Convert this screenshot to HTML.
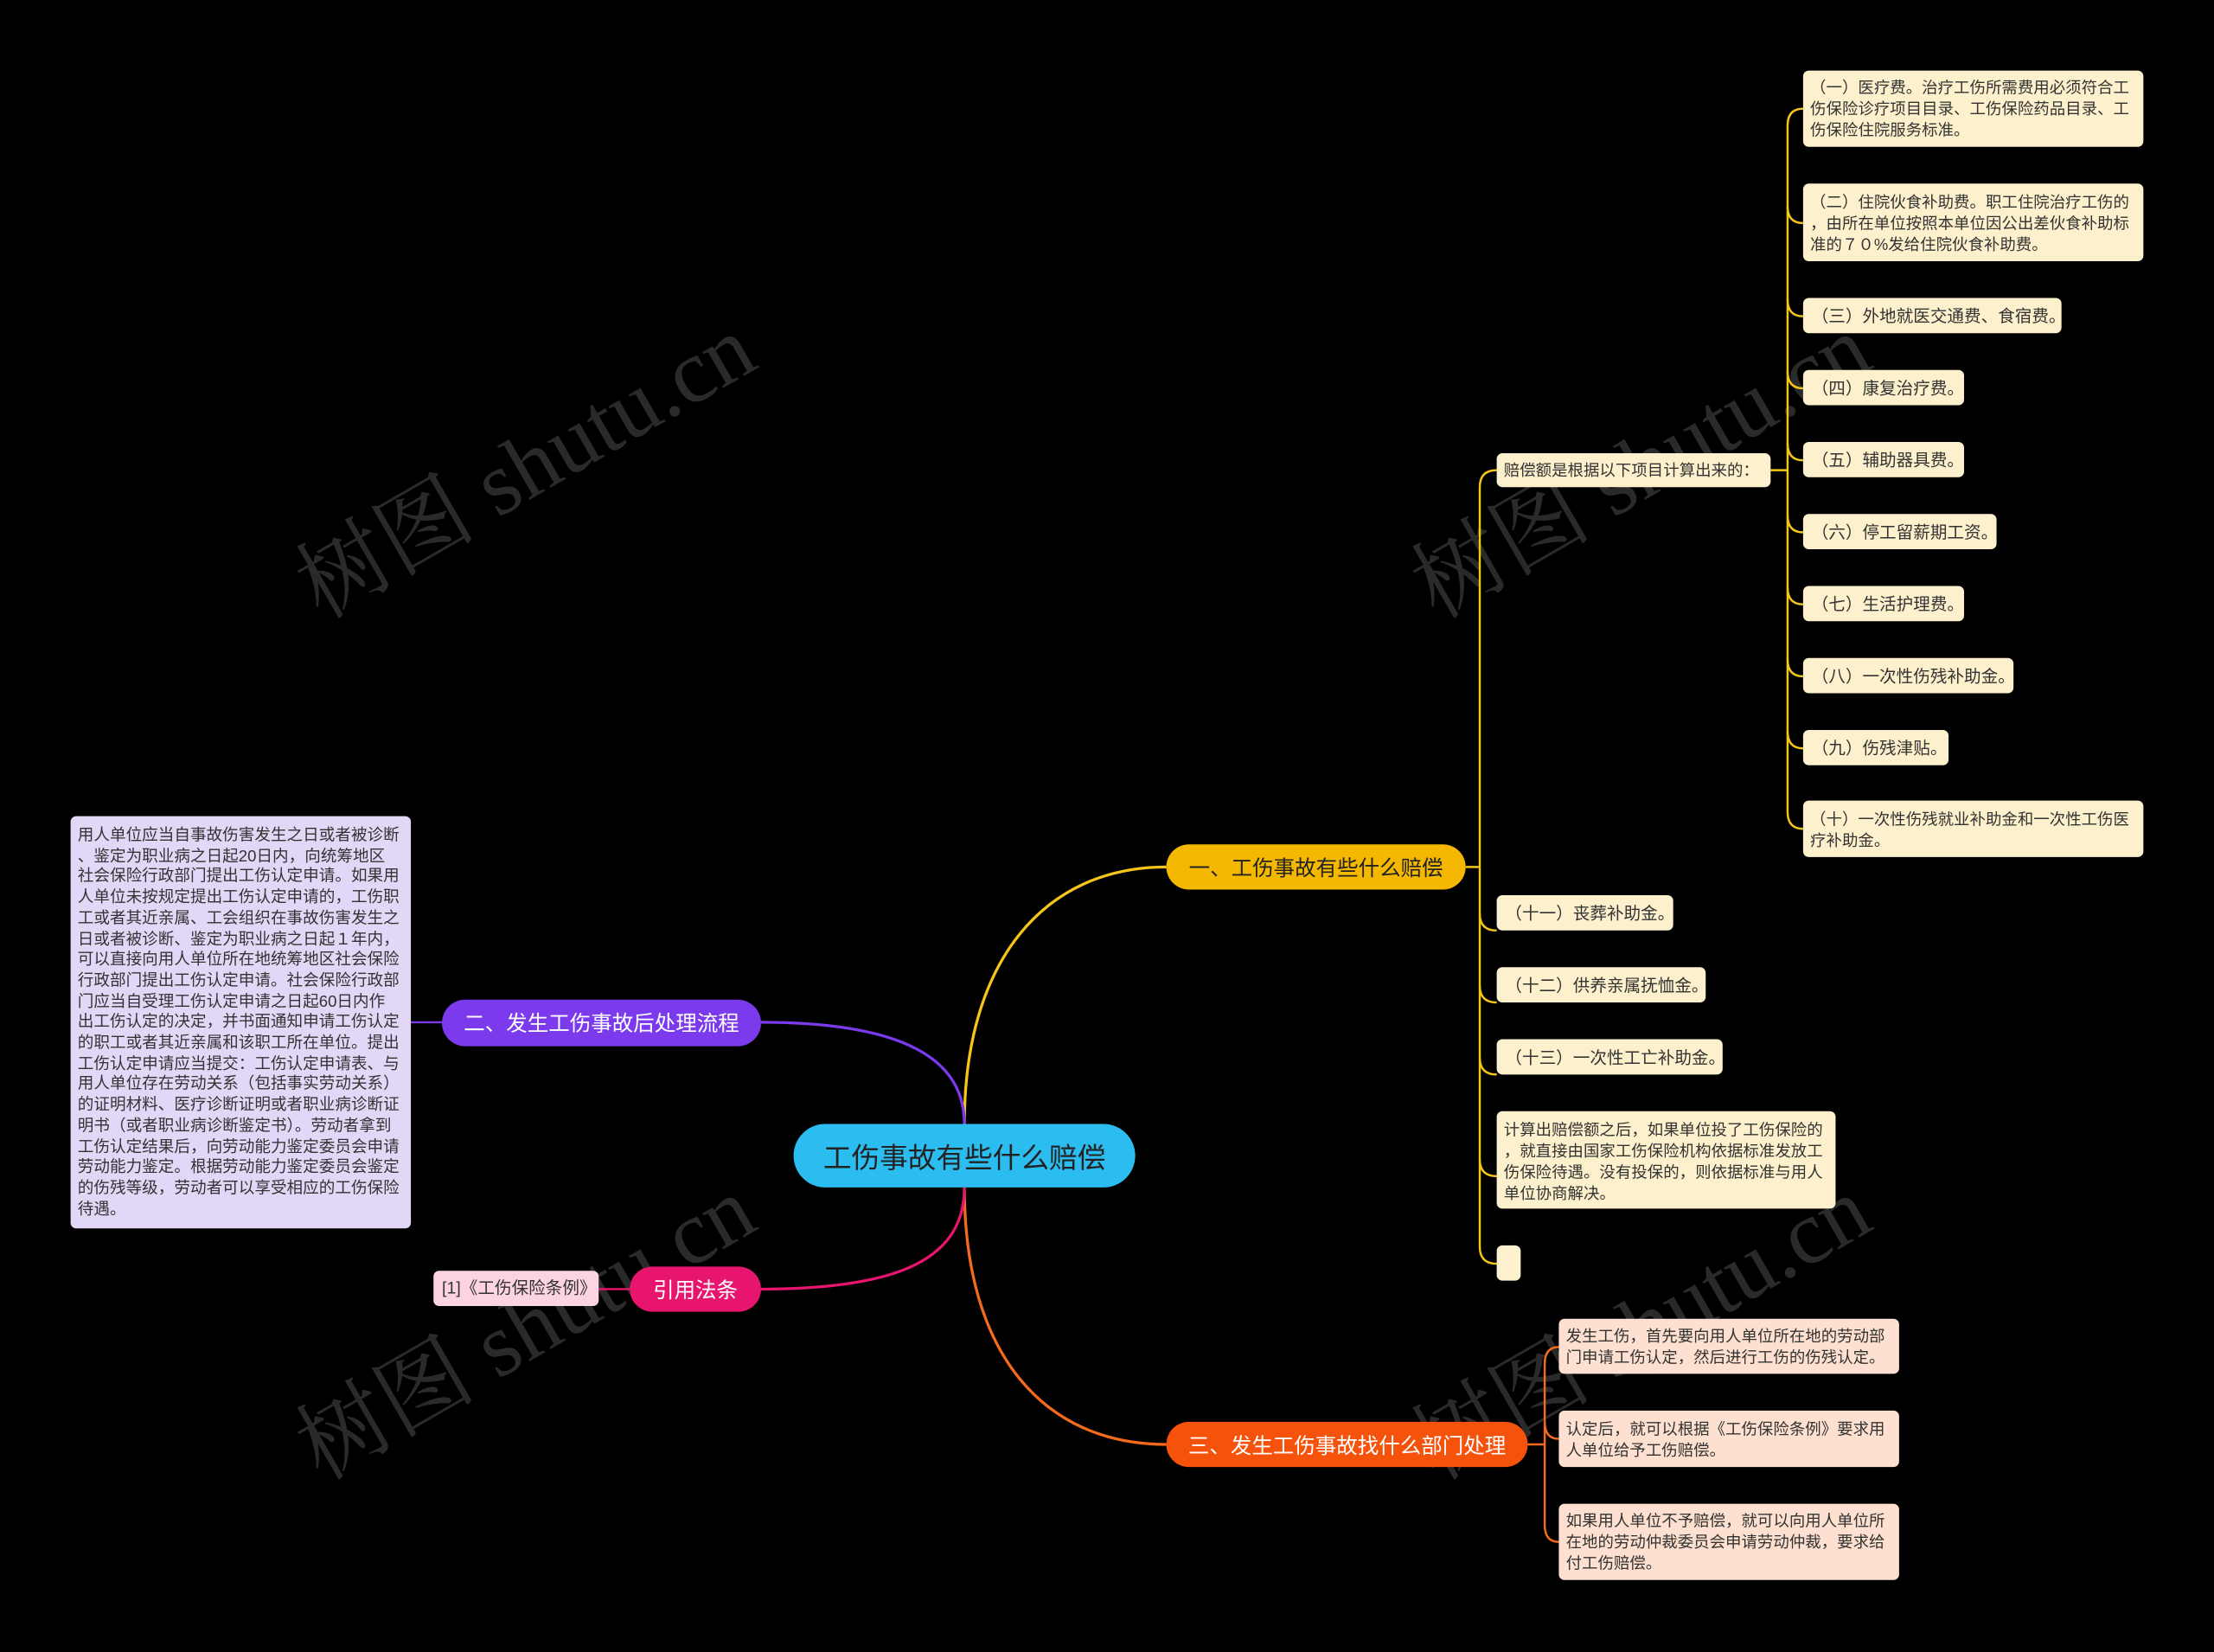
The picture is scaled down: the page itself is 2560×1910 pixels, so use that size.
<!DOCTYPE html>
<html><head><meta charset="utf-8"><style>
html,body{margin:0;padding:0;background:#000;}
body{width:2560px;height:1910px;overflow:hidden;}
#c{position:absolute;left:0;top:0;width:1568px;height:1170px;transform:scale(1.63265,1.63248);transform-origin:0 0;font-family:"Liberation Sans","Noto Sans CJK SC",sans-serif;}
.n{position:absolute;box-sizing:border-box;}
.leaf{background:#fdf0cc;color:#333;font-size:12px;line-height:15px;border-radius:4px;padding:5px 6px;white-space:nowrap;overflow:hidden;}
.w{font-size:11.3px !important;padding-left:5px !important;padding-right:3px !important;}
.main{border-radius:17px;font-size:15px;display:flex;align-items:center;justify-content:center;white-space:nowrap;}
.wm{position:absolute;color:#2a2a2a;font-size:64px;transform:rotate(-30deg);white-space:nowrap;font-family:"Liberation Serif","Noto Serif CJK SC",serif;}
</style></head><body><div id="c">
<div class="wm" style="left:190px;top:280px;">树图 shutu.cn</div>
<div class="wm" style="left:980px;top:280px;">树图 shutu.cn</div>
<div class="wm" style="left:190px;top:890px;">树图 shutu.cn</div>
<div class="wm" style="left:980px;top:890px;">树图 shutu.cn</div>
<svg width="1568" height="1170" style="position:absolute;left:0;top:0" fill="none">
<path d="M683,796 C683,680 740,614 826,614" stroke="#f5c518" stroke-width="2"/>
<path d="M683,841 C683,960 740,1023 826,1023" stroke="#f56a1c" stroke-width="2"/>
<path d="M683,796 C683,750 640,724 539,724" stroke="#7c3aed" stroke-width="2"/>
<path d="M683,841 C683,890 640,913 539,913" stroke="#e8156e" stroke-width="2"/>
<path d="M446,913 L424,913" stroke="#e8156e" stroke-width="1.5"/>
<path d="M313,724 L291,724" stroke="#7c3aed" stroke-width="1.5"/>
<g stroke="#f5c518" stroke-width="1.5">
<path d="M1038,614 L1048,614"/>
<path d="M1060,333 Q1048,333 1048,345 L1048,883 Q1048,895 1060,895"/>
<path d="M1048,647 Q1048,659 1060,659 M1048,698 Q1048,710 1060,710 M1048,749 Q1048,761 1060,761 M1048,821 Q1048,833 1060,833"/>
<path d="M1254,333 L1266,333"/>
<path d="M1277,77 Q1266,77 1266,89 L1266,575 Q1266,587 1277,587"/>
<path d="M1266,146 Q1266,158 1277,158 M1266,212 Q1266,224 1277,224 M1266,263 Q1266,275 1277,275 M1266,314 Q1266,326 1277,326 M1266,365 Q1266,377 1277,377 M1266,416 Q1266,428 1277,428 M1266,467 Q1266,479 1277,479 M1266,518 Q1266,530 1277,530"/>
</g>
<g stroke="#f56a1c" stroke-width="1.5">
<path d="M1082,1023 L1094,1023"/>
<path d="M1104,954 Q1094,954 1094,966 L1094,1080 Q1094,1092 1104,1092"/>
<path d="M1094,1007 Q1094,1019 1104,1019"/>
</g>
</svg>
<div class="n main" style="left:562px;top:796px;width:242px;height:45px;border-radius:23px;background:#2bbdf0;color:#222;font-size:20px;">工伤事故有些什么赔偿</div>
<div class="n main" style="left:826px;top:598px;width:212px;height:32px;background:#f5b800;color:#222;">一、工伤事故有些什么赔偿</div>
<div class="n main" style="left:313px;top:708px;width:226px;height:33px;background:#7c3aed;color:#fff;">二、发生工伤事故后处理流程</div>
<div class="n main" style="left:446px;top:897px;width:93px;height:32px;background:#e8156e;color:#fff;">引用法条</div>
<div class="n main" style="left:826px;top:1007px;width:256px;height:32px;background:#f5520c;color:#fff;">三、发生工伤事故找什么部门处理</div>
<div class="n leaf" style="left:307px;top:900px;width:117px;height:25px;background:#fbd3e2;padding:5px 6px;">[1]《工伤保险条例》</div>
<div class="n leaf" style="left:50px;top:578px;width:241px;height:292px;background:#e3d7f8;line-height:14.7px;padding:7px 5px;font-size:11.4px;">用人单位应当自事故伤害发生之日或者被诊断<br>、鉴定为职业病之日起20日内，向统筹地区<br>社会保险行政部门提出工伤认定申请。如果用<br>人单位未按规定提出工伤认定申请的，工伤职<br>工或者其近亲属、工会组织在事故伤害发生之<br>日或者被诊断、鉴定为职业病之日起１年内，<br>可以直接向用人单位所在地统筹地区社会保险<br>行政部门提出工伤认定申请。社会保险行政部<br>门应当自受理工伤认定申请之日起60日内作<br>出工伤认定的决定，并书面通知申请工伤认定<br>的职工或者其近亲属和该职工所在单位。提出<br>工伤认定申请应当提交：工伤认定申请表、与<br>用人单位存在劳动关系（包括事实劳动关系）<br>的证明材料、医疗诊断证明或者职业病诊断证<br>明书（或者职业病诊断鉴定书）。劳动者拿到<br>工伤认定结果后，向劳动能力鉴定委员会申请<br>劳动能力鉴定。根据劳动能力鉴定委员会鉴定<br>的伤残等级，劳动者可以享受相应的工伤保险<br>待遇。</div>
<div class="n leaf w" style="left:1060px;top:321px;width:194px;height:24px;padding-top:6px;">赔偿额是根据以下项目计算出来的：</div>
<div class="n leaf w" style="left:1277px;top:50px;width:241px;height:54px;padding-top:6px;">（一）医疗费。治疗工伤所需费用必须符合工<br>伤保险诊疗项目目录、工伤保险药品目录、工<br>伤保险住院服务标准。</div>
<div class="n leaf w" style="left:1277px;top:130px;width:241px;height:55px;padding-top:7px;">（二）住院伙食补助费。职工住院治疗工伤的<br>，由所在单位按照本单位因公出差伙食补助标<br>准的７０%发给住院伙食补助费。</div>
<div class="n leaf" style="left:1277px;top:211px;width:183px;height:25px;padding-top:6px;">（三）外地就医交通费、食宿费。</div>
<div class="n leaf" style="left:1277px;top:262px;width:114px;height:25px;padding-top:6px;">（四）康复治疗费。</div>
<div class="n leaf" style="left:1277px;top:313px;width:114px;height:25px;padding-top:6px;">（五）辅助器具费。</div>
<div class="n leaf" style="left:1277px;top:364px;width:137px;height:25px;padding-top:6px;">（六）停工留薪期工资。</div>
<div class="n leaf" style="left:1277px;top:415px;width:114px;height:25px;padding-top:6px;">（七）生活护理费。</div>
<div class="n leaf" style="left:1277px;top:466px;width:149px;height:25px;padding-top:6px;">（八）一次性伤残补助金。</div>
<div class="n leaf" style="left:1277px;top:517px;width:103px;height:25px;padding-top:6px;">（九）伤残津贴。</div>
<div class="n leaf w" style="left:1277px;top:567px;width:241px;height:40px;padding-top:7px;">（十）一次性伤残就业补助金和一次性工伤医<br>疗补助金。</div>
<div class="n leaf" style="left:1060px;top:634px;width:125px;height:25px;padding-top:6px;">（十一）丧葬补助金。</div>
<div class="n leaf" style="left:1060px;top:685px;width:148px;height:25px;padding-top:6px;">（十二）供养亲属抚恤金。</div>
<div class="n leaf" style="left:1060px;top:736px;width:160px;height:25px;padding-top:6px;">（十三）一次性工亡补助金。</div>
<div class="n leaf w" style="left:1060px;top:787px;width:240px;height:69px;padding-top:7px;">计算出赔偿额之后，如果单位投了工伤保险的<br>，就直接由国家工伤保险机构依据标准发放工<br>伤保险待遇。没有投保的，则依据标准与用人<br>单位协商解决。</div>
<div class="n leaf" style="left:1060px;top:882px;width:17px;height:25px;"></div>
<div class="n leaf w" style="left:1104px;top:934px;width:241px;height:39px;background:#fde0cf;padding-top:6px;">发生工伤，首先要向用人单位所在地的劳动部<br>门申请工伤认定，然后进行工伤的伤残认定。</div>
<div class="n leaf w" style="left:1104px;top:999px;width:241px;height:40px;background:#fde0cf;padding-top:7px;">认定后，就可以根据《工伤保险条例》要求用<br>人单位给予工伤赔偿。</div>
<div class="n leaf w" style="left:1104px;top:1065px;width:241px;height:54px;background:#fde0cf;padding-top:6px;">如果用人单位不予赔偿，就可以向用人单位所<br>在地的劳动仲裁委员会申请劳动仲裁，要求给<br>付工伤赔偿。</div>
</div></body></html>
